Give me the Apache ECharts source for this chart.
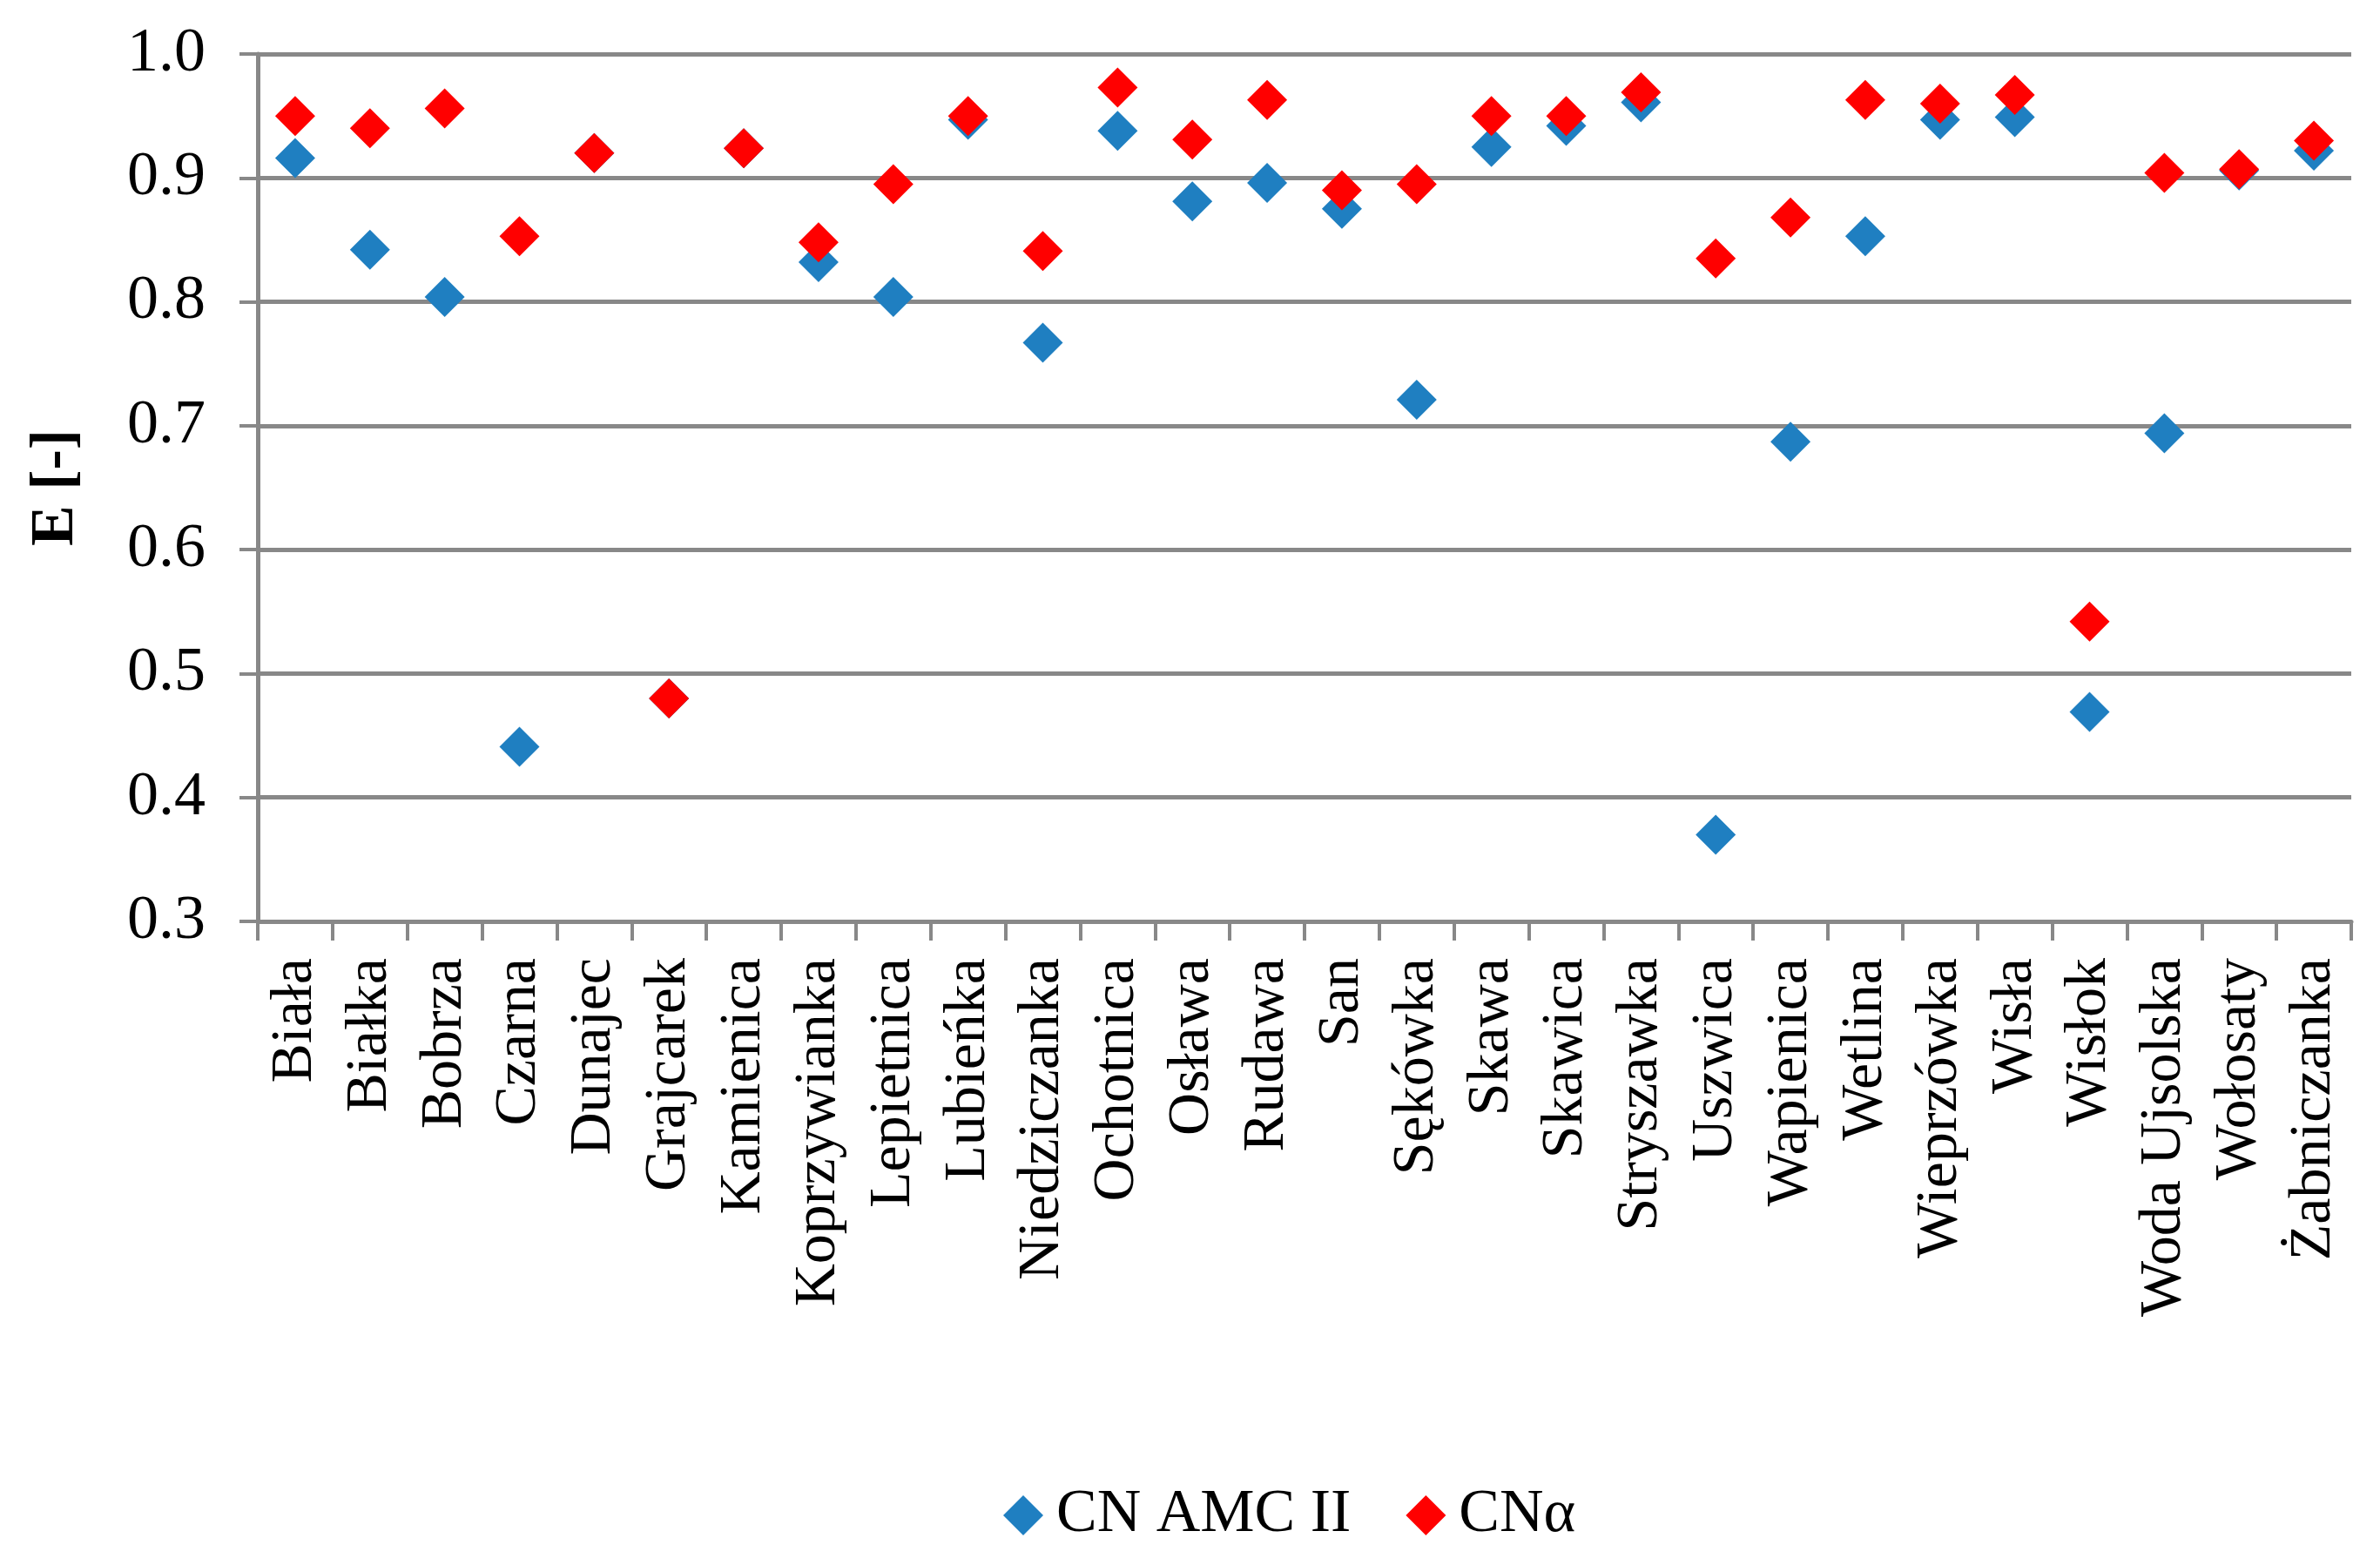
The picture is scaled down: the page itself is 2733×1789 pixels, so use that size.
<!DOCTYPE html>
<html>
<head>
<meta charset="utf-8">
<script src="https://cdn.jsdelivr.net/npm/echarts@6/dist/echarts.min.js"></script>
<style>html,body{margin:0;padding:0;background:#fff}#c{width:2733px;height:1789px}</style>
</head>
<body>
<div id="c"></div>
<script>
const categories = ["Biała","Białka","Bobrza","Czarna","Dunajec","Grajcarek","Kamienica","Koprzywianka","Lepietnica","Lubieńka","Niedziczanka","Ochotnica","Osława","Rudawa","San","Sękówka","Skawa","Skawica","Stryszawka","Uszwica","Wapienica","Wetlina","Wieprzówka","Wisła","Wisłok","Woda Ujsolska","Wołosaty","Żabniczanka"];
const cnAmcII = [0.916,0.842,0.804,0.441,0.920,0.480,0.924,0.832,0.804,0.947,0.767,0.938,0.881,0.896,0.875,0.721,0.925,0.942,0.961,0.370,0.687,0.853,0.947,0.949,0.469,0.694,0.906,0.922];
const cnAlpha = [0.950,0.940,0.956,0.853,0.920,0.480,0.924,0.848,0.895,0.950,0.841,0.973,0.931,0.963,0.890,0.895,0.950,0.950,0.969,0.835,0.868,0.963,0.960,0.967,0.542,0.904,0.907,0.930];
const yTicks = [0.3,0.4,0.5,0.6,0.7,0.8,0.9,1.0];

const FONT = '"Liberation Serif", "Times New Roman", serif';
const GRAY = '#888888';
const chart = echarts.init(document.getElementById('c'));
chart.setOption({
  backgroundColor: '#fff',
  animation: false,
  textStyle: {fontFamily: FONT, color: '#000'},
  grid: {left: 296, right: 33, top: 62, bottom: 731, containLabel: false},
  legend: {
    left: 1152, top: 1705, padding: 0,
    itemWidth: 46, itemHeight: 46, itemGap: 63,
    textStyle: {fontFamily: FONT, fontSize: 70, color: '#000', padding: [0,0,0,10]},
    data: [{name: 'CN AMC II', icon: 'diamond'}, {name: 'CNα', icon: 'diamond'}]
  },
  xAxis: {
    type: 'category', data: categories, boundaryGap: true,
    axisLine: {lineStyle: {color: GRAY, width: 5}},
    axisTick: {show: true, length: 22, lineStyle: {color: GRAY, width: 4}},
    axisLabel: {rotate: 90, fontFamily: FONT, fontSize: 68, color: '#000', margin: 42, interval: 0},
    splitLine: {show: false}
  },
  yAxis: {
    type: 'value', min: 0.3, max: 1.0, interval: 0.1,
    name: 'E [-]', nameLocation: 'middle', nameGap: 196, nameRotate: 90,
    nameTextStyle: {fontFamily: FONT, fontSize: 70, fontWeight: 'bold', color: '#000'},
    axisLine: {show: true, lineStyle: {color: GRAY, width: 5}},
    axisTick: {show: true, length: 21, lineStyle: {color: GRAY, width: 4}},
    axisLabel: {fontFamily: FONT, fontSize: 72, color: '#000', margin: 60,
      formatter: v => v.toFixed(1)},
    splitLine: {show: true, lineStyle: {color: GRAY, width: 5}}
  },
  series: [
    {name: 'CN AMC II', type: 'scatter', symbol: 'diamond', symbolSize: 46,
     itemStyle: {color: '#1F7FC1', opacity: 1}, data: cnAmcII, z: 3},
    {name: 'CNα', type: 'scatter', symbol: 'diamond', symbolSize: 46,
     itemStyle: {color: '#FF0000', opacity: 1}, data: cnAlpha, z: 4}
  ]
});
</script>
</body>
</html>
